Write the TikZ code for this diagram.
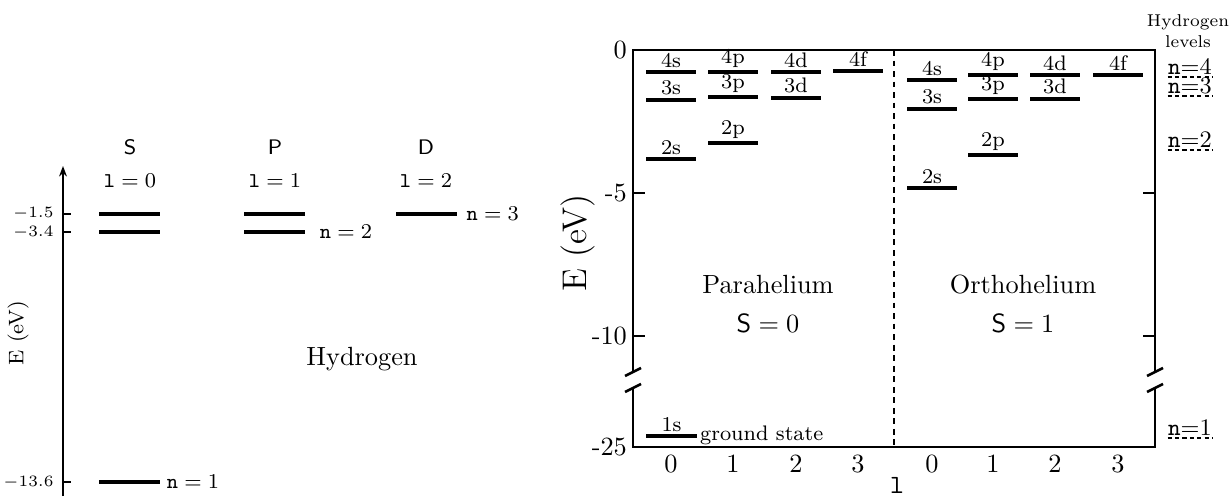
\documentclass[tikz,border=0pt]{standalone}
\usepackage{amsmath}
\usepackage{tikz}
\usetikzlibrary{arrows.meta, positioning}

\tikzset{
  hlevel/.style={line width=1.3pt},
  helevel/.style={line width=1.5pt},
  axisline/.style={line width=0.6pt},
  frameline/.style={line width=1pt},
  sepline/.style={line width=1pt, dash pattern=on 2.2pt off 1.8pt},
  hdash/.style={line width=0.7pt, dash pattern=on 1.6pt off 1.2pt},
  lvllabel/.style={above, inner sep=1pt, font=\footnotesize},
  smalltick/.style={font=\fontsize{6}{7}\selectfont, anchor=east, inner sep=1pt},
  bigtick/.style={font=\normalsize, inner sep=1pt},
  nlabel/.style={anchor=west, inner sep=1pt, font=\fontsize{8.5}{10}\selectfont},
  hlabel/.style={anchor=base, inner sep=0pt, font=\small}
}

\begin{document}
\begin{tikzpicture}[x=0.38pt, y=-0.38pt]
  \useasboundingbox (0,0) rectangle (1229,496);

  % ---------------- Hydrogen (left) ----------------
  % Energy axis
  \draw[axisline, -{Stealth[length=4pt, width=3pt]}] (63,496) -- (63,166);
  \node[rotate=90, font=\footnotesize] (heaxis) at (18,333) {E (eV)};

  % ticks and their values
  \foreach \y/\v [count=\i] in {214/-1.5, 232/-3.4, 482/-13.6}
    \draw[axisline] (63,\y) -- (71,\y) node[smalltick] (htick\i) at (57,\y) {$\v$};

  % orbital letters and l values
  \node[font=\footnotesize\sffamily] (colS) at (130,147) {S};
  \node[font=\footnotesize\sffamily] (colP) at (275,147) {P};
  \node[font=\footnotesize\sffamily] (colD) at (426,147) {D};
  \node[font=\footnotesize] (ell0) at (130,181) {$\mathtt{l} = 0$};
  \node[font=\footnotesize] (ell1) at (275,181) {$\mathtt{l} = 1$};
  \node[font=\footnotesize] (ell2) at (426,181) {$\mathtt{l} = 2$};

  % levels
  \draw[hlevel] (99,214) -- (160,214);
  \draw[hlevel] (99,232) -- (160,232);
  \draw[hlevel] (244,214) -- (305,214);
  \draw[hlevel] (244,232) -- (305,232) node[nlabel, xshift=4pt] (hn2) {$\mathtt{n} = 2$};
  \draw[hlevel] (396,214) -- (457,214) node[nlabel, xshift=2pt] (hn3) {$\mathtt{n} = 3$};
  \draw[hlevel] (99,482) -- (160,482) node[nlabel, xshift=1pt] (hn1) {$\mathtt{n} = 1$};

  \node (hydro) at (362,359) {Hydrogen};

  % ---------------- Helium (right) ----------------
  % frame with broken sides
  \draw[frameline] (633,372) -- (633,50) -- (1155,50) -- (1155,372);
  \draw[frameline] (633,388) -- (633,447) -- (1155,447) -- (1155,388);
  \draw[frameline] (625,376) -- (641,368);
  \draw[frameline] (625,392) -- (641,384);
  \draw[frameline] (1147,376) -- (1163,368);
  \draw[frameline] (1147,392) -- (1163,384);

  % para / ortho separator
  \draw[sepline] (894,50) -- (894,447);

  % energy ticks
  \draw[frameline] (633,193) -- (645,193);
  \draw[frameline] (633,336) -- (645,336);
  \draw[frameline] (1143,193) -- (1155,193);
  \draw[frameline] (1143,336) -- (1155,336);
  \node[bigtick, anchor=east] (etick0) at (630,50) {0};
  \node[bigtick, anchor=east] (etick5) at (630,193) {-5};
  \node[bigtick, anchor=east] (etick10) at (630,336) {-10};
  \node[bigtick, anchor=east] (etick25) at (630,447) {-25};
  \node[rotate=90, font=\fontsize{13}{15}\selectfont] (eaxis) at (578,243) {E (eV)};

  % l ticks
  \foreach \x/\v [count=\i] in {671/0, 733/1, 796/2, 858/3, 932/0, 993/1, 1055/2, 1118/3}
    \node[bigtick] (ltick\i) at (\x,464) {\v};
  \node[font=\normalsize] (laxis) at (897,485) {$\mathtt{l}$};

  % parahelium levels
  \foreach \x/\y/\lab in {671/72/4s, 671/100/3s, 671/159/2s,
                          733/72/4p, 733/97/3p, 733/143/2p,
                          796/72/4d, 796/98/3d, 858/71/4f}
    \draw[helevel] (\x-25,\y) -- (\x+25,\y) node[lvllabel, midway] (p\lab) {\lab};
  \draw[helevel] (646,436) -- (697,436) node[lvllabel, midway] (p1s) {1s};
  \node[anchor=base west, inner sep=1pt, font=\footnotesize] (gstate) at (697,440) {ground state};

  % orthohelium levels
  \foreach \x/\y/\lab in {932/80/4s, 932/109/3s, 932/188/2s,
                          993/75/4p, 993/99/3p, 993/155/2p,
                          1055/75/4d, 1055/99/3d, 1118/75/4f}
    \draw[helevel] (\x-25,\y) -- (\x+25,\y) node[lvllabel, midway] (o\lab) {\lab};

  \node[align=center] (para) at (768,285) {Parahelium};
  \node (spin0) at (768,323) {$\mathsf{S} = 0$};
  \node[align=center] (ortho) at (1023,285) {Orthohelium};
  \node (spin1) at (1023,323) {$\mathsf{S} = 1$};

  % hydrogen levels for comparison
  \node[align=center, font=\fontsize{6.5}{8}\selectfont, inner sep=0pt] (hlev) at (1188,31) {Hydrogen\\levels};
  \foreach \y/\n in {74/4, 93/3, 147/2, 435/1} {
    \node[hlabel] (hl\n) at (1190,\y) {$\mathtt{n}{=}\n$};
    \draw[hdash] ([yshift=-1pt]hl\n.south west) -- ([yshift=-1pt]hl\n.south east);
  }
\end{tikzpicture}
\end{document}
